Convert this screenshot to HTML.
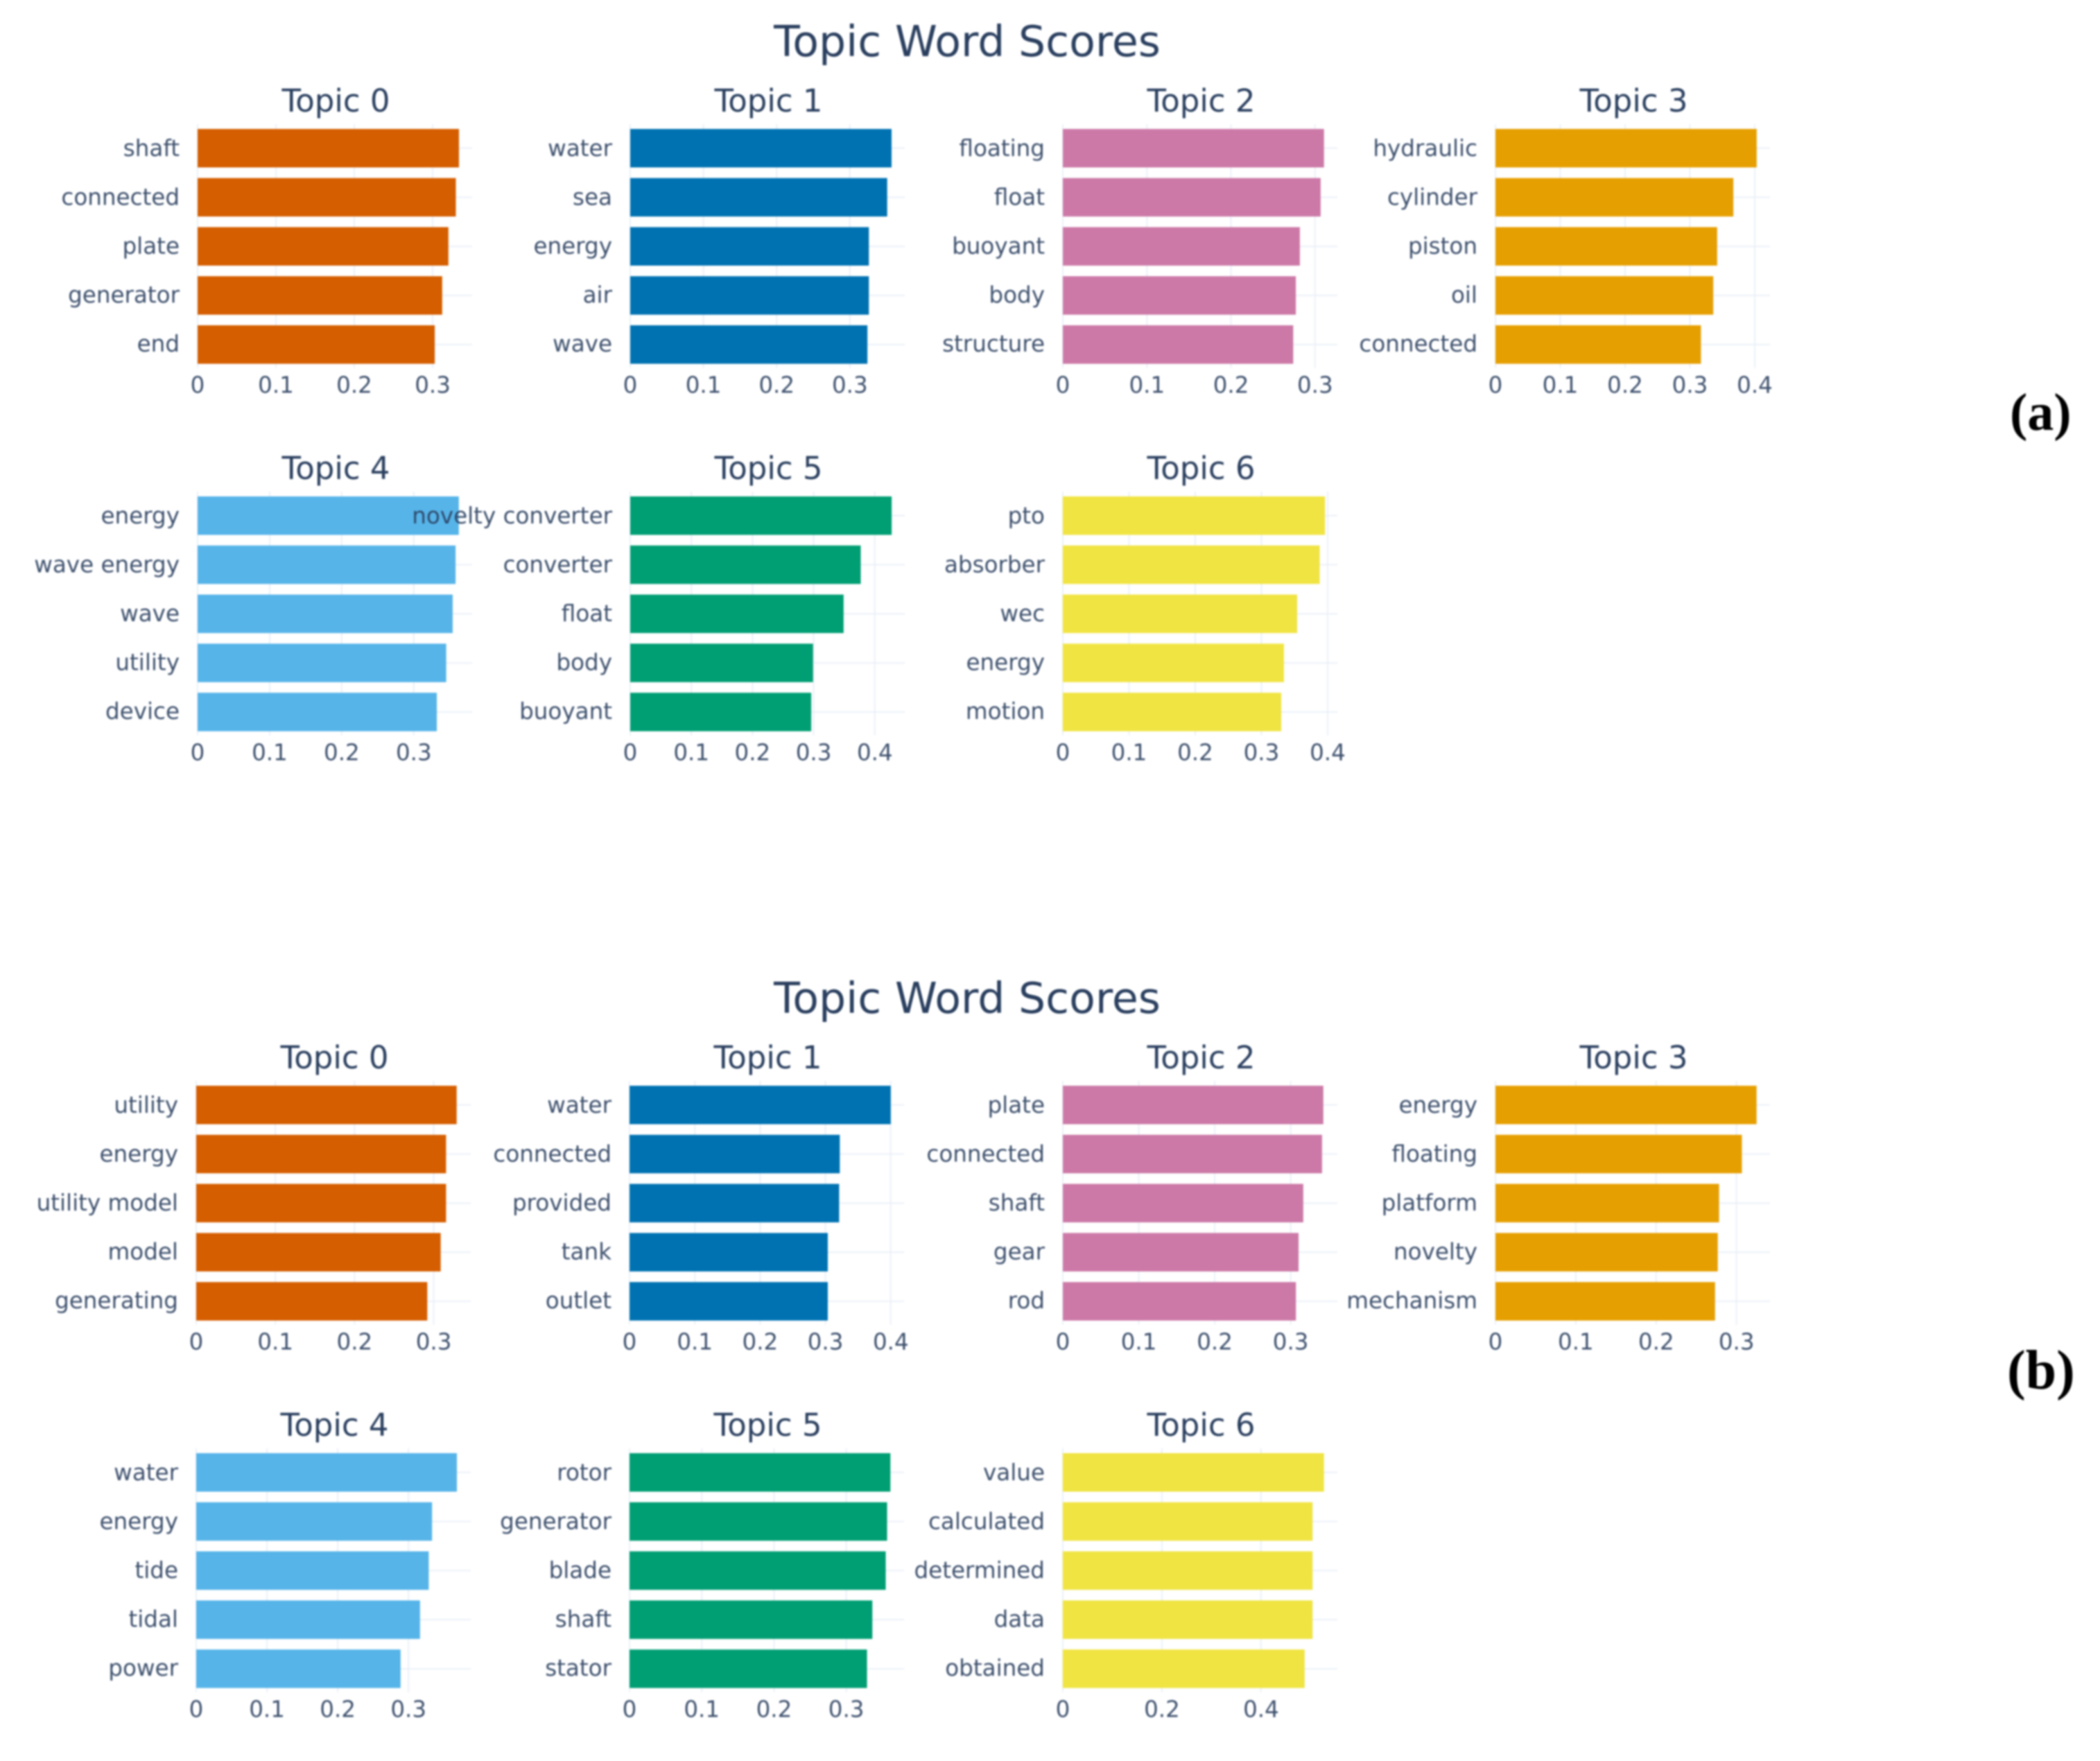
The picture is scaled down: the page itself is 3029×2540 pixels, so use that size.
<!DOCTYPE html>
<html lang="en">
<head>
<meta charset="utf-8">
<title>Topic Word Scores</title>
<style>
  html, body { margin: 0; padding: 0; background: #ffffff; }
  body { width: 3029px; height: 2540px; overflow: hidden; }
  #chart { display: block; filter: blur(1.3px); }
  text { font-family: "DejaVu Sans", "Liberation Sans", sans-serif; fill: #2a3f5f; }
  .panel-label { font-family: "Liberation Serif", serif; font-weight: 700; fill: #000; }
</style>
</head>
<body>
<svg id="chart" xmlns="http://www.w3.org/2000/svg" width="3029" height="2540" viewBox="0 0 3029 2540">
  <rect width="3029" height="2540" fill="#ffffff"/>
  <text class="panel-label" x="2899" y="620" font-size="76">(a)</text>
  <text class="panel-label" x="2895" y="2003" font-size="80">(b)</text>
</svg>
<script>
const topicColors = ["#D55E00", "#0072B2", "#CC79A7", "#E69F00", "#56B4E9", "#009E73", "#F0E442"];

const wordsA = [
  ["shaft", "connected", "plate", "generator", "end"],
  ["water", "sea", "energy", "air", "wave"],
  ["floating", "float", "buoyant", "body", "structure"],
  ["hydraulic", "cylinder", "piston", "oil", "connected"],
  ["energy", "wave energy", "wave", "utility", "device"],
  ["novelty converter", "converter", "float", "body", "buoyant"],
  ["pto", "absorber", "wec", "energy", "motion"]
];
const scoresA = [
  [0.3336, 0.3296, 0.3201, 0.3122, 0.3027],
  [0.357, 0.351, 0.326, 0.326, 0.324],
  [0.3106, 0.3066, 0.2819, 0.2771, 0.274],
  [0.403, 0.367, 0.342, 0.336, 0.317],
  [0.3625, 0.358, 0.354, 0.345, 0.332],
  [0.4276, 0.377, 0.349, 0.299, 0.296],
  [0.396, 0.388, 0.354, 0.334, 0.330]
];
const axisMaxA = [0.3504, 0.375, 0.3265, 0.4235, 0.381, 0.449, 0.4147];
const ticksA = [
  [0, 0.1, 0.2, 0.3],
  [0, 0.1, 0.2, 0.3],
  [0, 0.1, 0.2, 0.3],
  [0, 0.1, 0.2, 0.3, 0.4],
  [0, 0.1, 0.2, 0.3],
  [0, 0.1, 0.2, 0.3, 0.4],
  [0, 0.1, 0.2, 0.3, 0.4]
];

const wordsB = [
  ["utility", "energy", "utility model", "model", "generating"],
  ["water", "connected", "provided", "tank", "outlet"],
  ["plate", "connected", "shaft", "gear", "rod"],
  ["energy", "floating", "platform", "novelty", "mechanism"],
  ["water", "energy", "tide", "tidal", "power"],
  ["rotor", "generator", "blade", "shaft", "stator"],
  ["value", "calculated", "determined", "data", "obtained"]
];
const scoresB = [
  [0.329, 0.3156, 0.3156, 0.3088, 0.2919],
  [0.40, 0.322, 0.321, 0.3036, 0.3036],
  [0.343, 0.3413, 0.3166, 0.3104, 0.3069],
  [0.325, 0.3067, 0.2783, 0.2767, 0.2733],
  [0.3684, 0.3333, 0.3286, 0.3163, 0.2888],
  [0.3611, 0.3565, 0.3546, 0.3361, 0.3287],
  [0.527, 0.504, 0.504, 0.504, 0.488]
];
const axisMaxB = [0.3468, 0.4204, 0.3615, 0.3417, 0.388, 0.38, 0.554];
const ticksB = [
  [0, 0.1, 0.2, 0.3],
  [0, 0.1, 0.2, 0.3, 0.4],
  [0, 0.1, 0.2, 0.3],
  [0, 0.1, 0.2, 0.3],
  [0, 0.1, 0.2, 0.3],
  [0, 0.1, 0.2, 0.3],
  [0, 0.2, 0.4]
];

const svg = document.getElementById("chart");
const NS = "http://www.w3.org/2000/svg";
const PLOT_W = 396;
const BAR_H = 55.5;
const BAR_PITCH = 70.8;
const LABEL_PITCH = 70.5;
const COL_PITCH = 624;
const ROW_PITCH = 530;

function make(parent, tag, attrs, content) {
  const el = document.createElementNS(NS, tag);
  for (const k in attrs) el.setAttribute(k, attrs[k]);
  if (content !== undefined) el.textContent = content;
  parent.appendChild(el);
  return el;
}

function drawFigure(figKey, top, baseX, words, scores, axisMax, ticks) {
  const title = make(svg, "text", { x: 1395, y: top - 105, "font-size": 61.7, "text-anchor": "middle" }, "Topic Word Scores");
  
  

  words.forEach(function (topicWords, t) {
    const col = t % 4;
    const row = Math.floor(t / 4);
    const x0 = baseX(col, row);
    const barTop = top + row * ROW_PITCH;
    const xScale = function (v) { return x0 + (v / axisMax[t]) * PLOT_W; };
    const yScale = function (i) { return barTop + i * BAR_PITCH; };

    const g = make(svg, "g", {});
    
    

    const plotBottom = yScale(topicWords.length - 1) + BAR_H + 6;

    ticks[t].forEach(function (v) {
      const grid = make(g, "line", { x1: xScale(v), x2: xScale(v), y1: barTop - 7, y2: plotBottom, stroke: "#EBF0F8", "stroke-width": 2 });
      
      
      const tick = make(g, "text", { x: xScale(v), y: plotBottom + 36, "font-size": 32.5, "text-anchor": "middle", opacity: 0.9 }, String(v));
      
      
    });

    topicWords.forEach(function (w, i) {
      const yc = yScale(i) + BAR_H / 2;
      const hgrid = make(g, "line", { x1: x0, x2: x0 + PLOT_W, y1: yc, y2: yc, stroke: "#EBF0F8", "stroke-width": 2 });
      
      
    });

    topicWords.forEach(function (w, i) {
      const bar = make(g, "rect", { x: xScale(0), y: yScale(i), width: xScale(scores[t][i]) - xScale(0), height: BAR_H, fill: topicColors[t] });
      
      
    });

    topicWords.forEach(function (w, i) {
      const label = make(g, "text", { x: x0 - 26, y: barTop + 39 + i * LABEL_PITCH, "font-size": 32.6, "text-anchor": "end", opacity: 0.9 }, w);
      
      
    });

    const head = make(g, "text", { x: x0 + 199.5, y: barTop - 25, "font-size": 45, "text-anchor": "middle" }, "Topic " + t);
    
    
  });
}

function baseXA(col) { return 285 + COL_PITCH * col; }
function baseXB(col) {
  if (col === 0) return 283;
  if (col === 1) return 908;
  return 285 + COL_PITCH * col;
}

drawFigure("a", 186, baseXA, wordsA, scoresA, axisMaxA, ticksA);
drawFigure("b", 1566, baseXB, wordsB, scoresB, axisMaxB, ticksB);
</script>
</body>
</html>
